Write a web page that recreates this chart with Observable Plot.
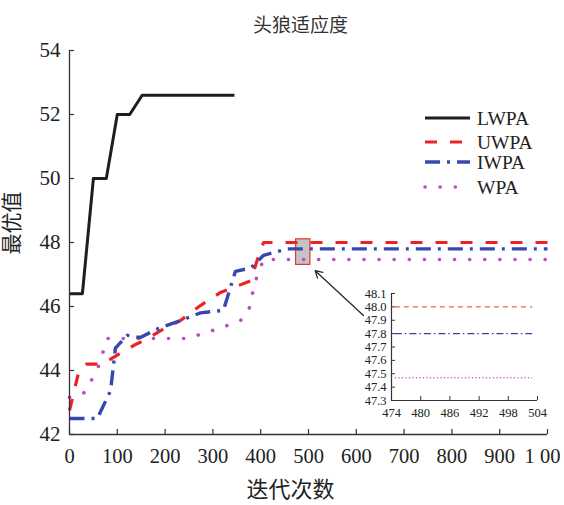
<!DOCTYPE html>
<html><head><meta charset="utf-8">
<script src="https://cdn.jsdelivr.net/npm/d3@7"></script>
<script src="https://cdn.jsdelivr.net/npm/@observablehq/plot@0.6"></script>
<style>
body{margin:0;background:#fff}
#wrap{position:relative;width:564px;height:505px;overflow:hidden;font-family:"Liberation Serif","Noto Sans CJK SC",serif;background:#fff}
#wrap>*{position:absolute}
</style></head><body><div id="wrap"></div>
<script>
// ---- data ----
const titleText = "头狼适应度";
const xLabel = "迭代次数";
const yLabel = "最优值";
const xTicks = [0,100,200,300,400,500,600,700,800,900,1000];
const xTickLabels = ["0","100","200","300","400","500","600","700","800","900","1 00"];
const yTicks = [42,44,46,48,50,52,54];
const seriesNames = ["LWPA","UWPA","IWPA","WPA"];
const lwpa = [[0,46.4],[27,46.4],[50,50],[77,50],[100,52],[126,52],[152,52.6],[345,52.6]];
const uwpa = [[0,42.75],[20,44.0],[35,44.2],[68,44.2],[93,44.42],[134,44.78],[156,44.94],[197,45.3],[232,45.56],[274,46.03],[316,46.44],[379,46.8],[396,47.6],[406,48.0],[1000,48.0]];
const iwpa = [[0,42.5],[58,42.5],[86,43.37],[96,44.7],[121,45.1],[148,45.03],[184,45.3],[232,45.56],[274,45.8],[322,45.88],[347,47.1],[379,47.2],[406,47.6],[456,47.8],[1000,47.8]];
const wpa = [[0,43.16],[30,43.3],[58,44.0],[79,45.0],[246,45.0],[310,45.3],[358,45.56],[375,45.88],[389,46.8],[406,47.47],[1000,47.47]];
const insetXTicks = [474,480,486,492,498,504];
const insetYTicks = [47.3,47.4,47.5,47.6,47.7,47.8,47.9,48.0,48.1];
const insetRange = [474.8,503];
const insetValues = [48.0,47.8,47.47]; // UWPA, IWPA, WPA
const zoomBox = [{x1:474,x2:504,y1:47.3,y2:48.1}];
const pointer = [{x1:615,y1:45.72,x2:514,y2:47.12}];

// ---- styles ----
const styles = {
  LWPA:{stroke:"#1e1e1e", strokeWidth:3, dash:null, cap:"butt"},
  UWPA:{stroke:"#ec2227", strokeWidth:3.2, dash:"12,13", cap:"butt"},
  IWPA:{stroke:"#3847b0", strokeWidth:3.4, dash:"15,7,3,7", cap:"butt"},
  WPA:{stroke:"#b94fbf", strokeWidth:3.6, dash:"0.1,15", cap:"round"}
};
const insetStyles = [
  {stroke:"#f0604f", dash:"5,4", w:1.3},
  {stroke:"#3840a8", dash:"7,3,1.5,3", w:1.3},
  {stroke:"#d060d0", dash:"1.2,2.3", w:1.3}
];
const font = `"Liberation Serif","Noto Sans CJK SC",serif`;
const seriesData = {LWPA:lwpa, UWPA:uwpa, IWPA:iwpa, WPA:wpa};

function lineMark(name){
  const s = styles[name];
  return Plot.line(seriesData[name], {x:d=>d[0], y:d=>d[1], stroke:s.stroke, strokeWidth:s.strokeWidth,
    strokeDasharray:s.dash, strokeLinecap:s.cap, strokeLinejoin:"round"});
}

const wrap = document.getElementById("wrap");

// main chart frame: 69..547 x 50..434
const M = {w:564, h:505, l:69, r:17, t:50, b:71};
const fw = M.w - M.l - M.r, fh = M.h - M.t - M.b;
const lastTick = xTicks[xTicks.length-1];
const main = Plot.plot({
  width:M.w, height:M.h, marginLeft:M.l, marginRight:M.r, marginTop:M.t, marginBottom:M.b,
  style:{fontFamily:font, background:"transparent", color:"#222"},
  x:{domain:[0,1000]},
  y:{domain:[42,54]},
  marks:[
    Plot.rect(zoomBox, {x1:"x1",x2:"x2",y1:"y1",y2:"y2", fill:"#c4c4c4", stroke:"#e8362f", strokeWidth:1.2}),
    lineMark("WPA"), lineMark("UWPA"), lineMark("IWPA"), lineMark("LWPA"),
    Plot.arrow(pointer, {x1:"x1",y1:"y1",x2:"x2",y2:"y2", stroke:"#2a2a2a", strokeWidth:1.3, headLength:9}),
    Plot.ruleX([0], {stroke:"#333", strokeWidth:1.3}),
    Plot.ruleY([42], {stroke:"#333", strokeWidth:1.3}),
    Plot.tickX(xTicks, {x:d=>d, insetTop:fh-5, stroke:"#333", strokeWidth:1.2}),
    Plot.tickY(yTicks, {y:d=>d, insetRight:fw-5, stroke:"#333", strokeWidth:1.2}),
    Plot.axisX({ticks:xTicks.slice(0,-1), tickFormat:d=>xTickLabels[xTicks.indexOf(d)], tickSize:0, tickPadding:14, fontSize:20.5, label:null}),
    Plot.axisX({ticks:[lastTick], tickFormat:d=>xTickLabels[xTicks.indexOf(d)], tickSize:0, tickPadding:14, fontSize:20.5, label:null, dx:-5}),
    Plot.axisY({ticks:yTicks, tickSize:0, tickPadding:9, fontSize:21, label:null}),
    Plot.text([yLabel], {frameAnchor:"left", dx:-57, dy:12, rotate:-90, fontSize:21, fill:"#222"}),
    Plot.text([xLabel], {frameAnchor:"bottom", dx:-18, dy:62, fontSize:22, fill:"#222"}),
    Plot.text([titleText], {frameAnchor:"top", dx:-8, dy:-32, fontSize:19, fill:"#333"})
  ]
});
main.style.left="0px"; main.style.top="0px";
wrap.appendChild(main);

// inset
const I = {w:215, h:150, l:51, r:18, t:13, b:30};
const ifw = I.w - I.l - I.r, ifh = I.h - I.t - I.b;
const insetData = insetValues.map((v,i)=>({v, i}));
const inset = Plot.plot({
  width:I.w, height:I.h, marginLeft:I.l, marginRight:I.r, marginTop:I.t, marginBottom:I.b,
  style:{fontFamily:font, background:"transparent", color:"#222"},
  x:{domain:[474,504]},
  y:{domain:[47.3,48.1]},
  marks:[
    ...insetData.map(d=>Plot.ruleY([d], {y:"v", x1:insetRange[0], x2:insetRange[1], stroke:insetStyles[d.i].stroke,
      strokeDasharray:insetStyles[d.i].dash, strokeWidth:insetStyles[d.i].w})),
    Plot.ruleX([474], {stroke:"#333", strokeWidth:1.2}),
    Plot.ruleY([47.3], {stroke:"#333", strokeWidth:1.2}),
    Plot.tickX(insetXTicks, {x:d=>d, insetTop:ifh-4, stroke:"#333"}),
    Plot.tickY(insetYTicks, {y:d=>d, insetRight:ifw-4, stroke:"#333"}),
    Plot.axisX({ticks:insetXTicks, tickFormat:d=>String(d), tickSize:0, tickPadding:8, fontSize:12.5, label:null}),
    Plot.axisY({ticks:insetYTicks, tickFormat:d=>d.toFixed(1), tickSize:0, tickPadding:5, fontSize:12.5, label:null})
  ]
});
inset.style.left="340px"; inset.style.top="280px";
wrap.appendChild(inset);

// legend
const leg = d3.create("svg").attr("width",144).attr("height",100).style("left","420px").style("top","105px");
seriesNames.forEach((n,i)=>{
  const s = styles[n];
  const y = 13 + [0,24,44,69][i];
  leg.append("line").attr("x1",5).attr("x2",50).attr("y1",y).attr("y2",y)
    .attr("stroke",s.stroke).attr("stroke-width",s.strokeWidth).attr("stroke-dasharray",s.dash)
    .attr("stroke-linecap",s.cap);
  leg.append("text").attr("x",57).attr("y",y+6.5).attr("font-size",19.5).attr("font-family",font)
    .attr("fill","#222").text(n);
});
wrap.appendChild(leg.node());
</script></body></html>
